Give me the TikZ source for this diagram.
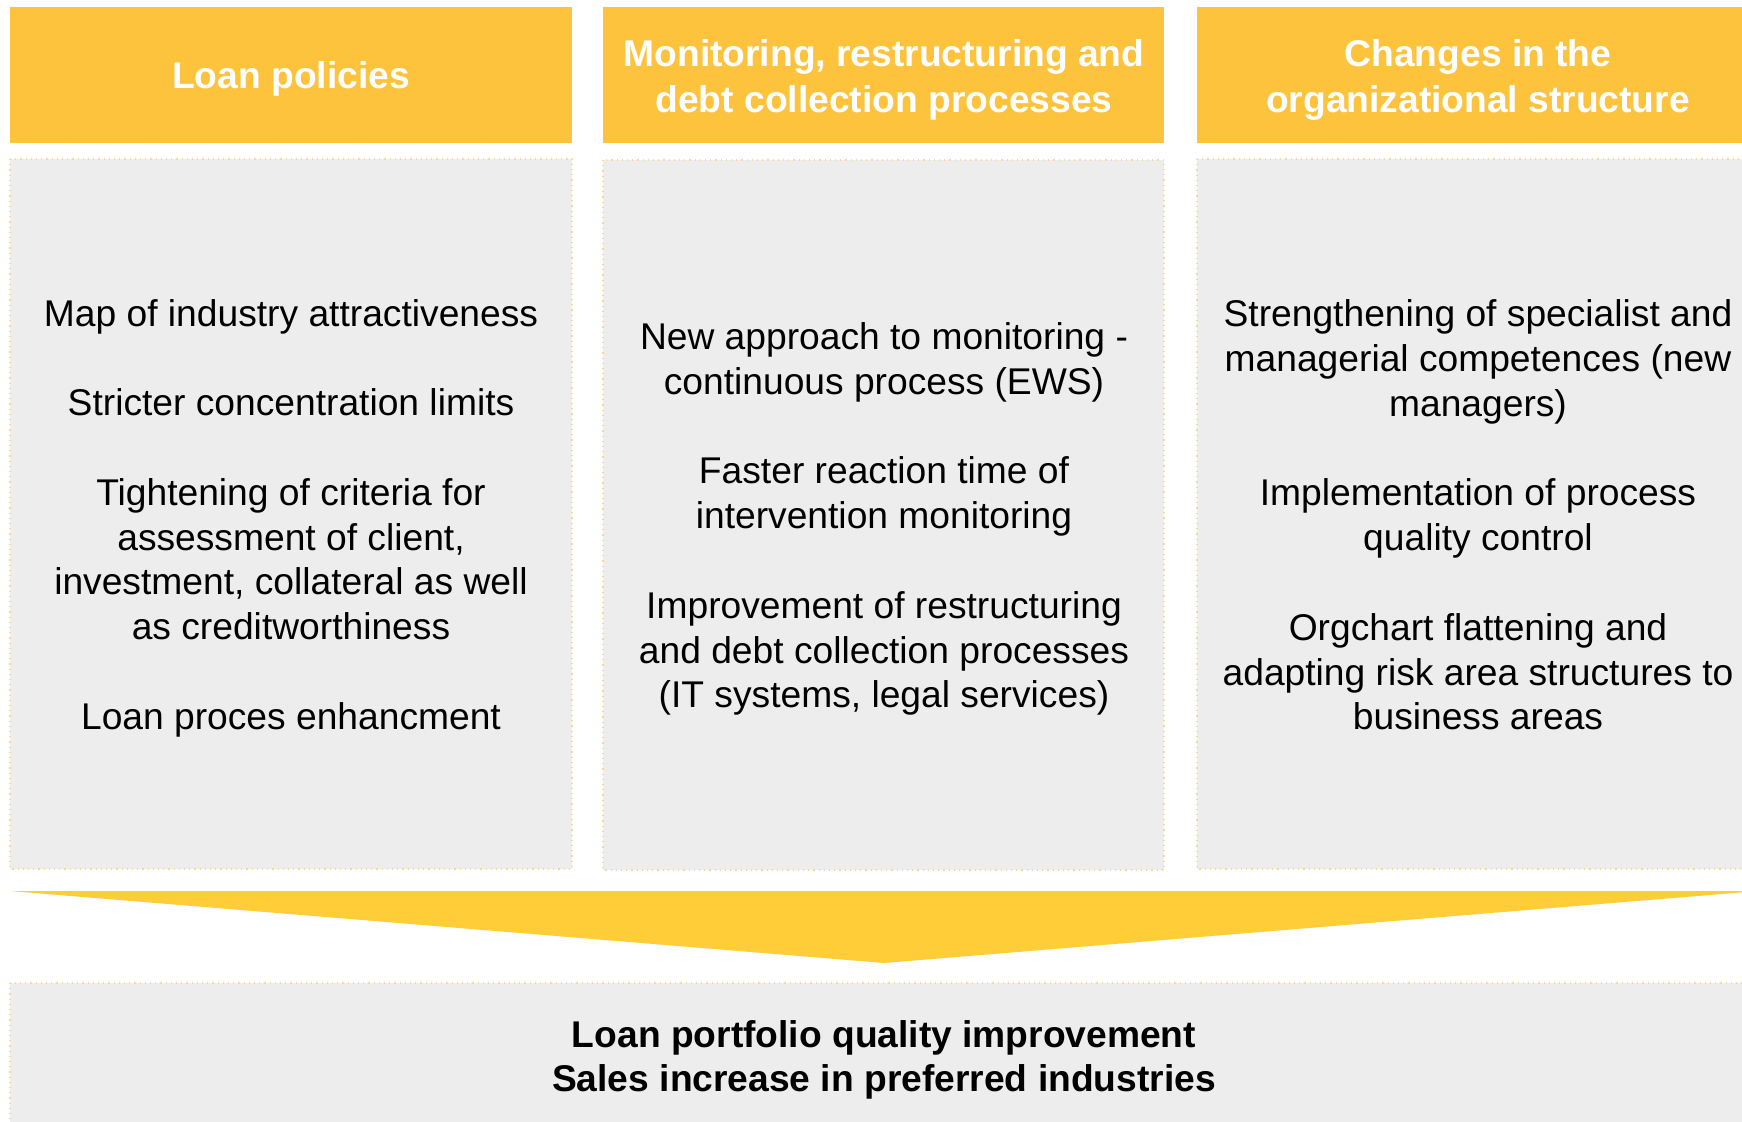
\documentclass[tikz,border=0pt]{standalone}
\usepackage{fontspec}
\setmainfont{Liberation Sans}
\definecolor{headyellow}{RGB}{253,195,61}
\definecolor{arrowyellow}{RGB}{255,205,56}
\definecolor{panelgrey}{RGB}{237,237,237}
\definecolor{dotline}{RGB}{252,214,150}
\begin{document}
\begin{tikzpicture}[x=0.5pt,y=-0.5pt,
  headfill/.style={fill=headyellow},
  panel/.style={fill=panelgrey, draw=dotline, dotted, line width=0.6pt},
  headtext/.style={text=white, font=\bfseries\fontsize{18.6pt}{22.7pt}\selectfont, align=center, inner sep=0pt},
  bodytext/.style={text=black, font=\fontsize{18.6pt}{22.4pt}\selectfont, align=center, inner sep=0pt},
  resulttext/.style={text=black, font=\bfseries\fontsize{18.6pt}{22.3pt}\selectfont, align=center, inner sep=0pt}
]
\useasboundingbox (0,0) rectangle (1742,1121);
\clip (0,0) rectangle (1742,1121);

% column headers
\fill[headfill] (10,7) rectangle (572,143);
\fill[headfill] (603,7) rectangle (1164,143);
\fill[headfill] (1197,7) rectangle (1759,143);

% content panels
\filldraw[panel] (10,159) rectangle (572,869);
\filldraw[panel] (603,160) rectangle (1164,870);
\filldraw[panel] (1197,159) rectangle (1759,869);

% converging arrow
\coordinate (arrowL) at (10,891);
\coordinate (arrowR) at (1758,891);
\coordinate (arrowTip) at (884,963);
\fill[arrowyellow] (arrowL) -- (arrowR) -- (arrowTip) -- cycle;

% result panel
\filldraw[panel] (10,983) rectangle (1759,1135);

% header texts
\node[headtext] (hLoan) at (291,78.5) {Loan policies};
\node[headtext] (hMon) at (884,80) {Monitoring, restructuring and\\debt collection processes};
\node[headtext] (hOrg) at (1478,80) {Changes in the\\organizational structure};

% panel texts
\node[bodytext] (tLoan) at (291,518) {Map of industry attractiveness\\[22.4pt]
Stricter concentration limits\\[22.4pt]
Tightening of criteria for\\
assessment of client,\\
investment, collateral as well\\
as creditworthiness\\[22.4pt]
Loan proces enhancment};

\node[bodytext] (tMon) at (884,519) {New approach to monitoring -\\
continuous process (EWS)\\[22.4pt]
Faster reaction time of\\
intervention monitoring\\[22.4pt]
Improvement of restructuring\\
and debt collection processes\\
(IT systems, legal services)};

\node[bodytext] (tOrg) at (1478,515) {Strengthening of specialist and\\
managerial competences (new\\
managers)\\[22.4pt]
Implementation of process\\
quality control\\[22.4pt]
Orgchart flattening and\\
adapting risk area structures to\\
business areas};

% result text
\node[resulttext] (result) at (884,1060) {Loan portfolio quality improvement\\Sales increase in preferred industries};
\end{tikzpicture}
\end{document}
